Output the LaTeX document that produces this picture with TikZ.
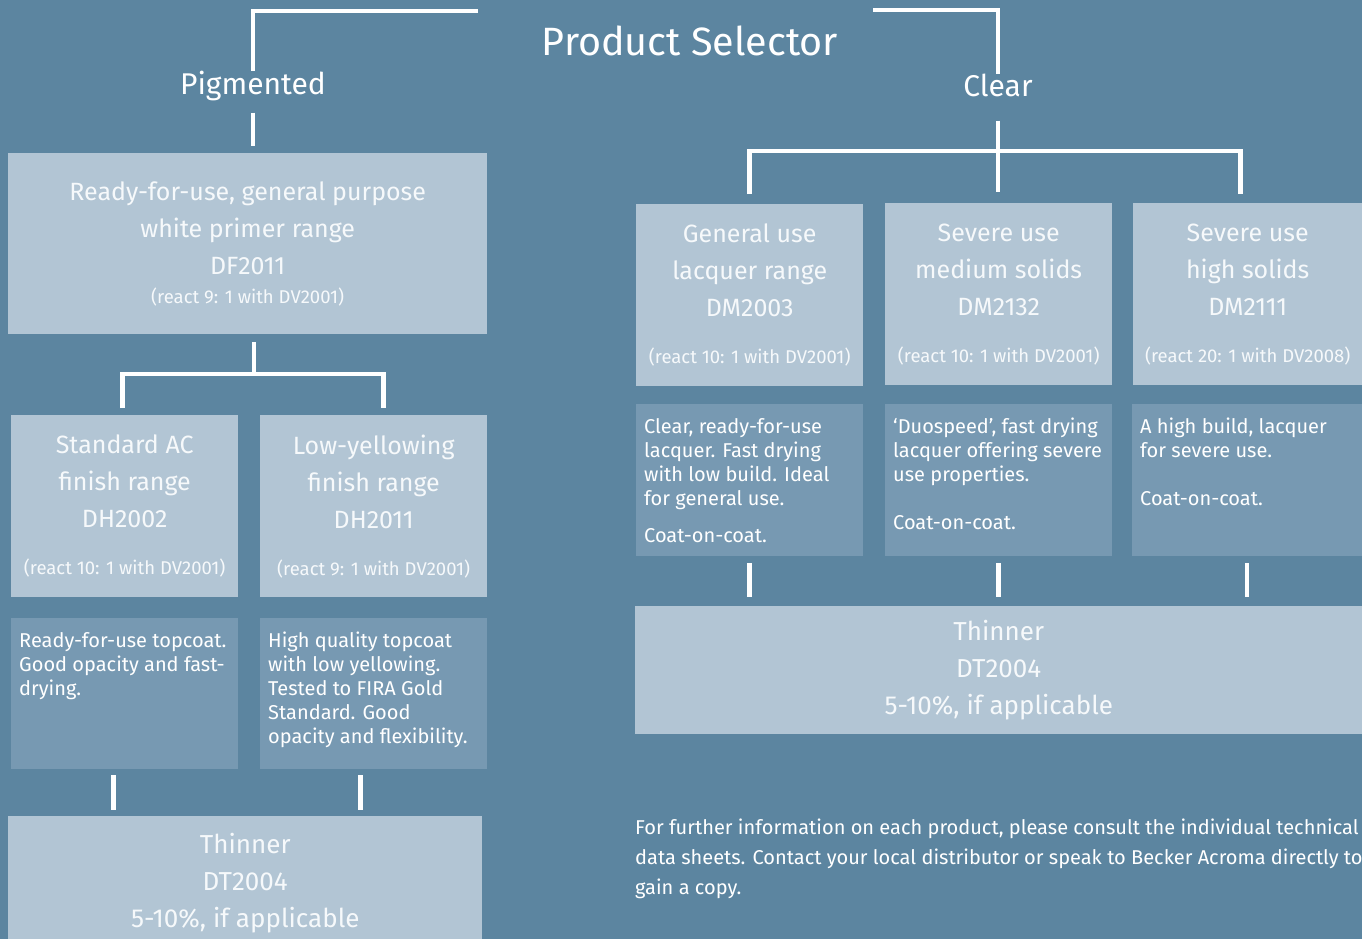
\documentclass[tikz,border=0pt]{standalone}
\usepackage{fontspec}
\setmainfont{Fira Sans}
\definecolor{bgblue}{RGB}{92,133,160}
\definecolor{boxlight}{RGB}{178,197,212}
\definecolor{boxmid}{RGB}{119,153,178}
\definecolor{boxtext}{RGB}{246,249,251}
\newcommand\titlefont{\fontsize{39.5}{46}\selectfont}
\newcommand\groupfont{\fontsize{30}{36}\selectfont}
\newcommand\headfont{\fontsize{25}{37}\selectfont}
\newcommand\thinfont{\fontsize{26}{37}\selectfont}
\newcommand\reactfont{\fontsize{18.5}{20}\selectfont}
\newcommand\descfont{\fontsize{20}{24}\selectfont}
\newcommand\notefont{\fontsize{20}{30}\selectfont}
\tikzset{
  x=1pt,
  y=-1pt,
}
\tikzstyle{link}=[draw=white,line width=4.5pt]
\tikzstyle{heading}=[text=white,anchor=base,inner sep=0pt,font=\groupfont]
\tikzstyle{headbox}=[fill=boxlight,text=boxtext,align=center,inner sep=0pt,anchor=north west,font=\headfont]
\tikzstyle{descbox}=[fill=boxmid,inner sep=0pt,anchor=north west]
\tikzstyle{desctext}=[text=white,align=left,inner sep=0pt,anchor=north west,font=\descfont]
\tikzstyle{note}=[text=white,align=left,inner sep=0pt,anchor=north west,font=\notefont]

\begin{document}
\begin{tikzpicture}
    \useasboundingbox (0,0) rectangle (1362,939);
    \clip (0,0) rectangle (1362,939);
    \fill[bgblue] (0,0) rectangle (1362,939);

    \node[heading,font=\titlefont] (title) at (690,56) {Product Selector};
    \node[heading] (pig) at (253,95) {Pigmented};
    \node[heading] (clear) at (998,97) {Clear};

    % pigmented side
    \node[headbox,minimum width=479pt,minimum height=181pt] (primer) at (8,153)
      {Ready-for-use, general purpose\\white primer range\\DF2011\\[-8pt]{\reactfont (react 9: 1 with DV2001)}};
    \node[headbox,minimum width=227pt,minimum height=182pt] (stdac) at (11,415)
      {Standard AC\\finish range\\DH2002\\[10pt]{\reactfont (react 10: 1 with DV2001)}};
    \node[headbox,minimum width=227pt,minimum height=182pt] (lowy) at (260,415)
      {Low-yellowing\\finish range\\DH2011\\[10pt]{\reactfont (react 9: 1 with DV2001)}};
    \node[descbox,minimum width=227pt,minimum height=151pt] (stdacd) at (11,618) {};
    \node[desctext] at ([xshift=8pt,yshift=-12pt]stdacd.north west)
      {\strut Ready-for-use topcoat.\\Good opacity and fast-\\drying.};
    \node[descbox,minimum width=227pt,minimum height=151pt] (lowyd) at (260,618) {};
    \node[desctext] at ([xshift=8pt,yshift=-12pt]lowyd.north west)
      {\strut High quality topcoat\\with low yellowing.\\Tested to FIRA Gold\\Standard. Good\\opacity and flexibility.};
    \node[headbox,font=\thinfont,minimum width=474pt,minimum height=133pt] (thinl) at (8,816)
      {Thinner\\DT2004\\5-10\%, if applicable};

    % clear side
    \node[headbox,minimum width=227pt,minimum height=182pt] (gen) at (636,204)
      {General use\\lacquer range\\DM2003\\[10pt]{\reactfont (react 10: 1 with DV2001)}};
    \node[headbox,minimum width=227pt,minimum height=182pt] (med) at (885,203)
      {Severe use\\medium solids\\DM2132\\[10pt]{\reactfont (react 10: 1 with DV2001)}};
    \node[headbox,minimum width=229pt,minimum height=182pt] (high) at (1133,203)
      {Severe use\\high solids\\DM2111\\[10pt]{\reactfont (react 20: 1 with DV2008)}};
    \node[descbox,minimum width=227pt,minimum height=152pt] (gend) at (636,404) {};
    \node[desctext] at ([xshift=8pt,yshift=-12pt]gend.north west)
      {\strut Clear, ready-for-use\\lacquer. Fast drying\\with low build. Ideal\\for general use.\\[13pt]Coat-on-coat.};
    \node[descbox,minimum width=227pt,minimum height=152pt] (medd) at (885,404) {};
    \node[desctext] at ([xshift=8pt,yshift=-12pt]medd.north west)
      {\strut ‘Duospeed’, fast drying\\lacquer offering severe\\use properties.\\[24pt]Coat-on-coat.};
    \node[descbox,minimum width=230pt,minimum height=152pt] (highd) at (1132,404) {};
    \node[desctext] at ([xshift=8pt,yshift=-12pt]highd.north west)
      {\strut A high build, lacquer\\for severe use.\\[24pt]Coat-on-coat.};
    \node[headbox,font=\thinfont,minimum width=727pt,minimum height=128pt] (thinr) at (635,606)
      {Thinner\\DT2004\\5-10\%, if applicable};

    \node[note] (info) at (635,813)
      {\strut For further information on each product, please consult the individual technical\\data sheets. Contact your local distributor or speak to Becker Acroma directly to\\gain a copy.};

    % brackets and links
    \coordinate (pl) at (478,11);
    \coordinate (pr) at (873,10);
    \draw[link] (pl) -| (pig.north);
    \draw[link] (pr) -| (clear.north);

    \draw[link,shorten <=11pt,shorten >=7pt] (pig.south) -- (pig.south |- primer.north);
    \coordinate (lj) at (254,374);
    \draw[link,shorten <=8pt] (lj |- primer.south) -- (lj);
    \draw[link] ([xshift=-2pt,yshift=7pt]stdac.north) |- (lj) -| ([xshift=10pt,yshift=7pt]lowy.north);
    \draw[link,shorten <=6pt,shorten >=6pt] ([xshift=-11pt]stdacd.south) -- ([xshift=-11pt]stdacd.south |- thinl.north);
    \draw[link,shorten <=6pt,shorten >=6pt] ([xshift=-13pt]lowyd.south) -- ([xshift=-13pt]lowyd.south |- thinl.north);

    \coordinate (cj) at (998,151);
    \draw[link,shorten <=23pt,shorten >=11pt] (clear.south) -- (clear.south |- med.north);
    \draw[link] ([yshift=10pt]gen.north) |- (cj) -| ([xshift=-7pt,yshift=9pt]high.north);
    \foreach \b in {gend,medd,highd}
      \draw[link,shorten <=7pt,shorten >=9pt] (\b.south) -- (\b.south |- thinr.north);
\end{tikzpicture}
\end{document}
